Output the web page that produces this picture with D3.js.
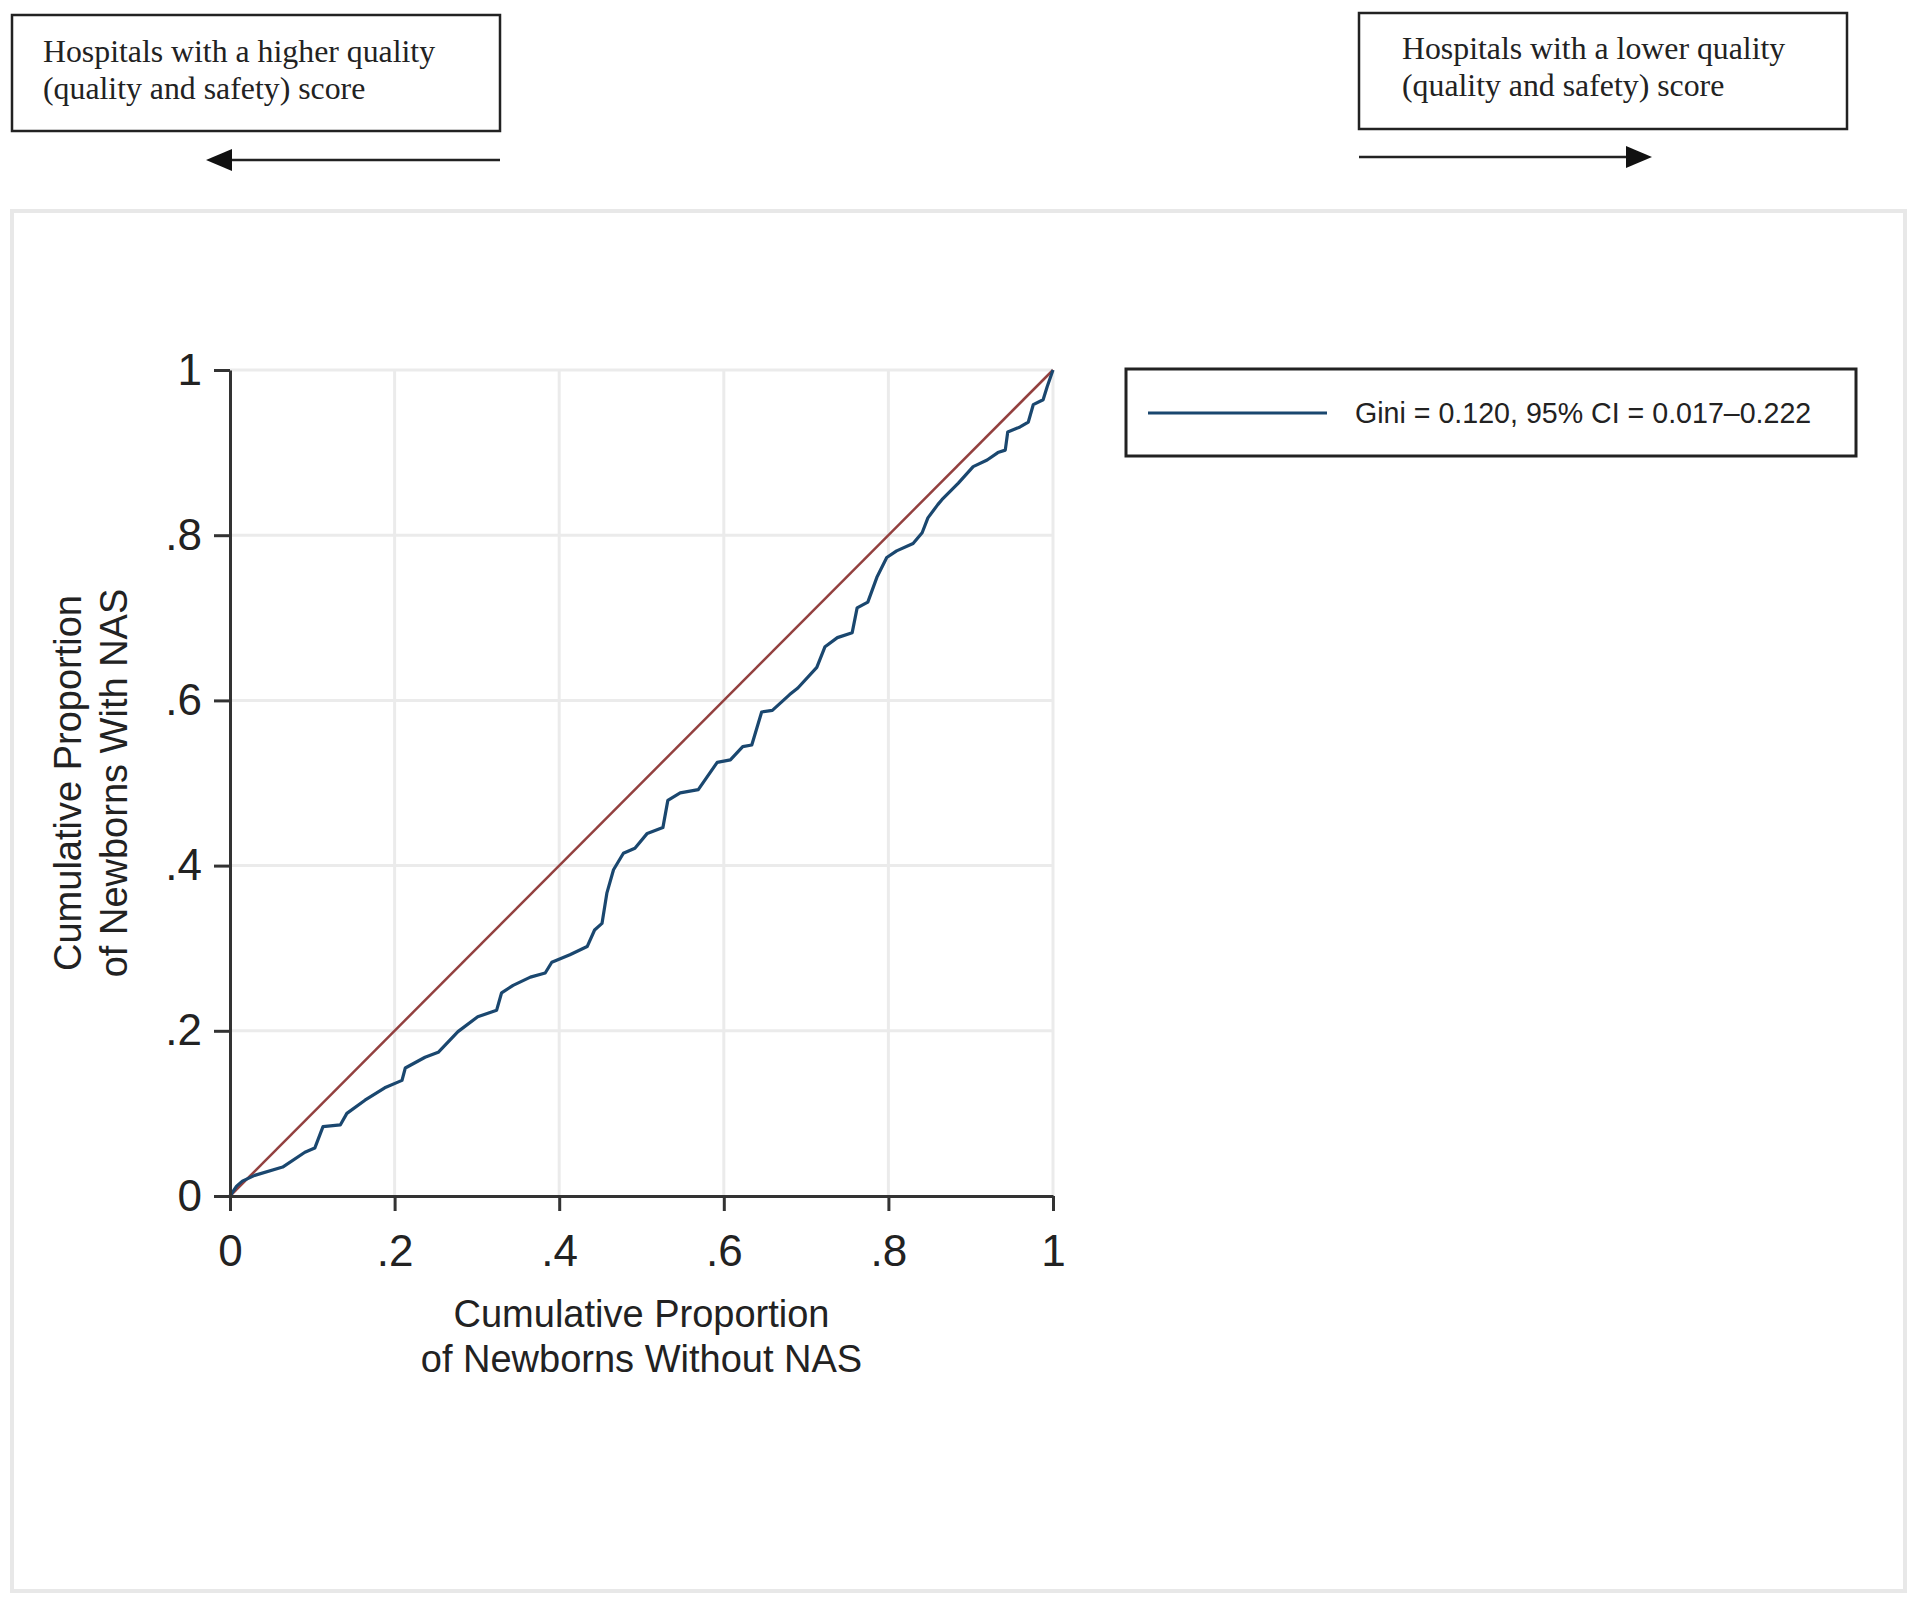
<!DOCTYPE html>
<meta charset="utf-8">
<style>
  body { margin: 0; background: #fff; }
</style>

<!-- Load d3.js -->
<script src="https://d3js.org/d3.v7.min.js"></script>

<!-- Create a div where the graph will take place -->
<div id="my_dataviz"></div>

<script>

// tick values and their labels (Stata style, no leading zero)
var ticks = [0, 0.2, 0.4, 0.6, 0.8, 1];
var tickLabels = ["0", ".2", ".4", ".6", ".8", "1"];

// Lorenz curve
var lorenzX = [0, 0.008, 0.015, 0.030, 0.064, 0.091, 0.103, 0.113, 0.134, 0.142, 0.164, 0.188, 0.209, 0.213, 0.237, 0.253,
  0.277, 0.301, 0.324, 0.330, 0.344, 0.365, 0.383, 0.391, 0.413, 0.434, 0.443, 0.452, 0.458, 0.466, 0.478,
  0.492, 0.507, 0.526, 0.532, 0.547, 0.569, 0.592, 0.608, 0.623, 0.634, 0.646, 0.659, 0.680, 0.690, 0.713,
  0.723, 0.738, 0.756, 0.762, 0.775, 0.786, 0.798, 0.810, 0.830, 0.841, 0.848, 0.860, 0.865, 0.885, 0.903,
  0.920, 0.933, 0.942, 0.945, 0.960, 0.970, 0.976, 0.988, 0.993, 1];
var lorenzY = [0, 0.012, 0.018, 0.025, 0.035, 0.053, 0.058, 0.084, 0.086, 0.100, 0.116, 0.131, 0.140, 0.155, 0.168, 0.174,
  0.199, 0.217, 0.225, 0.246, 0.255, 0.265, 0.270, 0.283, 0.292, 0.302, 0.322, 0.330, 0.367, 0.395, 0.415,
  0.421, 0.439, 0.446, 0.479, 0.488, 0.492, 0.525, 0.528, 0.544, 0.546, 0.586, 0.588, 0.607, 0.615, 0.640,
  0.665, 0.676, 0.682, 0.712, 0.719, 0.749, 0.773, 0.781, 0.790, 0.803, 0.821, 0.837, 0.843, 0.863, 0.883,
  0.891, 0.900, 0.903, 0.925, 0.931, 0.937, 0.958, 0.964, 0.980, 1];

// line of equality
var equalX = [0, 1];
var equalY = [0, 1];

// texts
var legendLabel = "Gini = 0.120, 95% CI = 0.017\u20130.222";
var xTitle = ["Cumulative Proportion", "of Newborns Without NAS"];
var yTitle = ["Cumulative Proportion", "of Newborns With NAS"];
var leftNote = ["Hospitals with a higher quality", "(quality and safety) score"];
var rightNote = ["Hospitals with a lower quality", "(quality and safety) score"];

var W = 1920, H = 1602;
var navy = "#1a476f", maroon = "#93403f", ink = "#222";
var sans = "'Liberation Sans', Arial, sans-serif";
var serif = "'Liberation Serif', 'Times New Roman', serif";

var svg = d3.select("#my_dataviz")
  .append("svg")
    .attr("width", W)
    .attr("height", H)
    .style("display", "block");

svg.append("rect").attr("width", W).attr("height", H).attr("fill", "#fff");

// light outer frame of the graph region
svg.append("rect")
  .attr("x", 12).attr("y", 211)
  .attr("width", 1893).attr("height", 1380)
  .attr("fill", "none")
  .attr("stroke", "#e8e8e8")
  .attr("stroke-width", 4);

// scales
var x = d3.scaleLinear().domain([0, 1]).range([230, 1053]);
var y = d3.scaleLinear().domain([0, 1]).range([1196, 370]);

// grid lines
var grid = svg.append("g").attr("stroke", "#ebebeb").attr("stroke-width", 3);
grid.selectAll(".gx")
  .data(ticks.slice(1))
  .enter()
  .append("line")
    .attr("x1", function(d) { return x(d); })
    .attr("x2", function(d) { return x(d); })
    .attr("y1", y(0)).attr("y2", y(1));
grid.selectAll(".gy")
  .data(ticks.slice(1))
  .enter()
  .append("line")
    .attr("y1", function(d) { return y(d); })
    .attr("y2", function(d) { return y(d); })
    .attr("x1", x(0)).attr("x2", x(1));

var line = d3.line()
  .x(function(d) { return x(d[0]); })
  .y(function(d) { return y(d[1]); });

// equality line
svg.append("path")
  .datum(d3.zip(equalX, equalY))
  .attr("d", line)
  .attr("fill", "none")
  .attr("stroke", maroon)
  .attr("stroke-width", 2.5);

// Lorenz curve
svg.append("path")
  .datum(d3.zip(lorenzX, lorenzY))
  .attr("d", line)
  .attr("fill", "none")
  .attr("stroke", navy)
  .attr("stroke-width", 3.2)
  .attr("stroke-linejoin", "round");

// axes
var xAxis = svg.append("g")
  .attr("transform", "translate(0," + y(0) + ")")
  .call(d3.axisBottom(x).tickValues(ticks)
    .tickFormat(function(d, i) { return tickLabels[i]; })
    .tickSize(15).tickSizeOuter(0).tickPadding(24));
var yAxis = svg.append("g")
  .attr("transform", "translate(" + x(0) + ",0)")
  .call(d3.axisLeft(y).tickValues(ticks)
    .tickFormat(function(d, i) { return tickLabels[i]; })
    .tickSize(16).tickSizeOuter(0).tickPadding(12));

[xAxis, yAxis].forEach(function(a) {
  a.select(".domain").attr("stroke", "#333").attr("stroke-width", 3);
  a.selectAll(".tick line").attr("stroke", "#333").attr("stroke-width", 3);
  a.selectAll(".tick text")
    .attr("fill", ink)
    .style("font-family", sans)
    .style("font-size", "44px");
});

// axis titles
svg.append("text")
  .attr("x", x(0.5)).attr("y", 1327)
  .attr("text-anchor", "middle")
  .style("font-family", sans).style("font-size", "38px").attr("fill", ink)
  .selectAll("tspan")
  .data(xTitle)
  .enter()
  .append("tspan")
    .attr("x", x(0.5))
    .attr("dy", function(d, i) { return i ? 45 : 0; })
    .text(function(d) { return d; });

svg.append("text")
  .attr("transform", "translate(81," + y(0.5) + ") rotate(-90)")
  .attr("text-anchor", "middle")
  .style("font-family", sans).style("font-size", "38px").attr("fill", ink)
  .selectAll("tspan")
  .data(yTitle)
  .enter()
  .append("tspan")
    .attr("x", 0)
    .attr("dy", function(d, i) { return i ? 46 : 0; })
    .text(function(d) { return d; });

// legend
var lg = svg.append("g");
lg.append("rect")
  .attr("x", 1126).attr("y", 369)
  .attr("width", 730).attr("height", 87)
  .attr("fill", "#fff")
  .attr("stroke", ink)
  .attr("stroke-width", 3);
lg.append("line")
  .attr("x1", 1148).attr("x2", 1327)
  .attr("y1", 413).attr("y2", 413)
  .attr("stroke", navy).attr("stroke-width", 3.2);
lg.append("text")
  .attr("x", 1355).attr("y", 423)
  .style("font-family", sans).style("font-size", "28.6px").attr("fill", ink)
  .text(legendLabel);

// direction notes above the graph
function note(bx, by, lines, tx, ty, ax1, ax2, ay) {
  var g = svg.append("g");
  g.append("rect")
    .attr("x", bx).attr("y", by)
    .attr("width", 488).attr("height", 116)
    .attr("fill", "#fff")
    .attr("stroke", ink)
    .attr("stroke-width", 2.5);
  g.append("text")
    .attr("y", ty)
    .style("font-family", serif).style("font-size", "31.8px").attr("fill", ink)
    .selectAll("tspan")
    .data(lines)
    .enter()
    .append("tspan")
      .attr("x", tx)
      .attr("dy", function(d, i) { return i ? 37 : 0; })
      .text(function(d) { return d; });
  // arrow: shaft then filled head at ax2
  var dir = ax2 > ax1 ? 1 : -1;
  g.append("line")
    .attr("x1", ax1).attr("x2", ax2 - dir * 20)
    .attr("y1", ay).attr("y2", ay)
    .attr("stroke", ink).attr("stroke-width", 2.5);
  g.append("path")
    .attr("d", "M" + ax2 + "," + ay + "L" + (ax2 - dir * 26) + "," + (ay - 11) +
               "L" + (ax2 - dir * 26) + "," + (ay + 11) + "Z")
    .attr("fill", "#111");
}

note(12, 15, leftNote, 43, 62, 500, 206, 160);
note(1359, 13, rightNote, 1402, 59, 1359, 1652, 157);

</script>
